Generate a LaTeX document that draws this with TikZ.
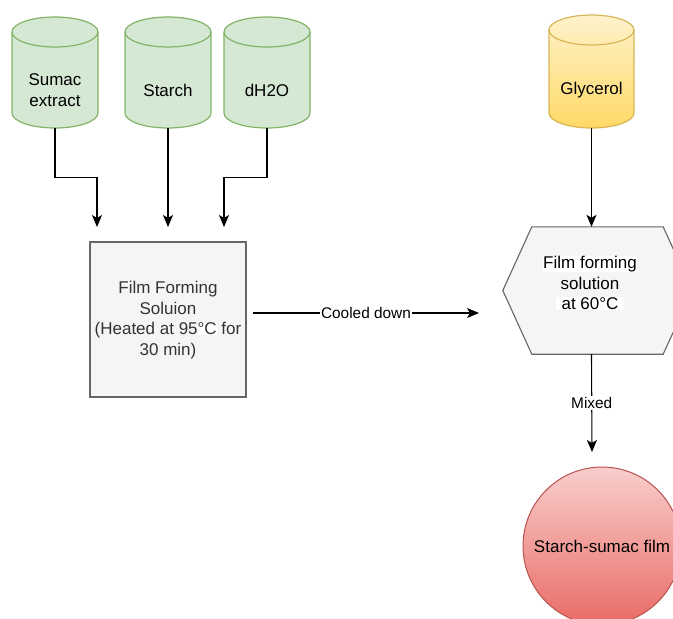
\documentclass[tikz,border=0pt]{standalone}
\usepackage{fontspec}
\setmainfont{Liberation Sans}
\usetikzlibrary{arrows.meta,calc}
\definecolor{gfill}{HTML}{D5E8D4}
\definecolor{gline}{HTML}{82B366}
\definecolor{yt}{HTML}{FFF2CC}
\definecolor{yb}{HTML}{FFD966}
\definecolor{yline}{HTML}{D6B656}
\definecolor{boxfill}{HTML}{F5F5F5}
\definecolor{boxline}{HTML}{666666}
\definecolor{boxtext}{HTML}{333333}
\definecolor{rt}{HTML}{F8CECC}
\definecolor{rb}{HTML}{EA6B66}
\definecolor{rline}{HTML}{B85450}
% name, left, right, top, bottom, style, text, text y
\newcommand\mycyl[8]{%
  \pgfmathsetmacro\myrx{(#3-#2)/2}%
  \pgfmathsetmacro\mycx{(#3+#2)/2}%
  \pgfmathsetmacro\myh{2*(#5-#8)}%
  \path[#6] (#2,#4+15) -- (#2,#5-15)
    arc[start angle=180,end angle=0,x radius=\myrx,y radius=15]
    -- (#3,#4+15)
    arc[start angle=0,end angle=-180,x radius=\myrx,y radius=15] -- cycle;
  \draw[#6 line] (#2,#4+15) arc[start angle=180,end angle=0,x radius=\myrx,y radius=15];
  \node[nodetext, minimum height=\myh, inner sep=0] (#1) at (\mycx,#8) {#7};
}
\begin{document}
\begin{tikzpicture}[x=1pt,y=-1pt,
  greencyl/.style={fill=gfill, draw=gline, line width=1.2pt},
  greencyl line/.style={draw=gline, line width=1.2pt},
  yellowcyl/.style={top color=yt, bottom color=yb, draw=yline, line width=1.2pt},
  yellowcyl line/.style={draw=yline, line width=1.2pt},
  conn/.style={draw=black, line width=1.1pt, -{Stealth[length=12pt,width=10pt,inset=3pt]}},
  lbl/.style={fill=white, text=black, font=\fontsize{15.4}{17}\selectfont, inner sep=1pt},
  nodetext/.style={font=\fontsize{17}{20.7}\selectfont, align=center, text=black},
  graybox/.style={draw=boxline, fill=boxfill, line width=1.1pt}]
\useasboundingbox (0,0) rectangle (673,619);
\clip (0,0) rectangle (673,619);

\mycyl{sumac}{12}{98}{17}{128}{greencyl}{Sumac\\extract}{90}
\mycyl{starch}{125}{211}{17}{128}{greencyl}{Starch}{90}
\mycyl{water}{224}{310}{17}{128}{greencyl}{dH2O}{90}
\mycyl{gly}{549}{634}{15}{128}{yellowcyl}{Glycerol}{90}

% box
\node[graybox, minimum width=156, minimum height=155, inner sep=0] (box) at (168,319.5) {};
\node[nodetext, text=boxtext] (boxtext) at (168,320)
  {Film Forming\\Soluion\\(Heated at 95{\fboxsep=0pt\colorbox{white}{°C}} for\\30 min)};

% hexagon
\node[minimum width=189, minimum height=127, inner sep=0] (hex) at (597.5,290.5) {};
\draw[graybox] (hex.west) -- ($(hex.north west)+(29,0)$) -- ($(hex.north east)+(-29,0)$)
  -- (hex.east) -- ($(hex.south east)+(-29,0)$) -- ($(hex.south west)+(29,0)$) -- cycle;
\node[nodetext] (hextext) at (590,283)
  {{\fboxsep=0.5pt\colorbox{white}{Film forming}}\\solution\\{\fboxsep=0.5pt\colorbox{white}{\ at 60°C\ }}};

% final film
\node[circle, draw=rline, top color=rt, bottom color=rb, minimum size=158, inner sep=0,
  line width=1pt, nodetext] (film) at (602,546) {Starch-sumac film};

% connector ends
\coordinate (t1) at (97,227);
\coordinate (t2) at (168,227);
\coordinate (t3) at (224,227);
\coordinate (c1) at (253,313);
\coordinate (c2) at (479,313);
\coordinate (m2) at (592,452);

\draw[conn] (sumac.south) |- ($(sumac.south)!.5!(t1)$) -| (t1);
\draw[conn] (starch.south) -- (t2);
\draw[conn] (water.south) |- ($(water.south)!.5!(t3)$) -| (t3);
\draw[conn] (gly.south) -- (gly.south |- hex.north);
\draw[conn] (c1) -- node[lbl] {Cooled down} (c2);
\draw[conn] (gly.south |- hex.south) -- node[lbl] {Mixed} (m2);
\end{tikzpicture}
\end{document}
